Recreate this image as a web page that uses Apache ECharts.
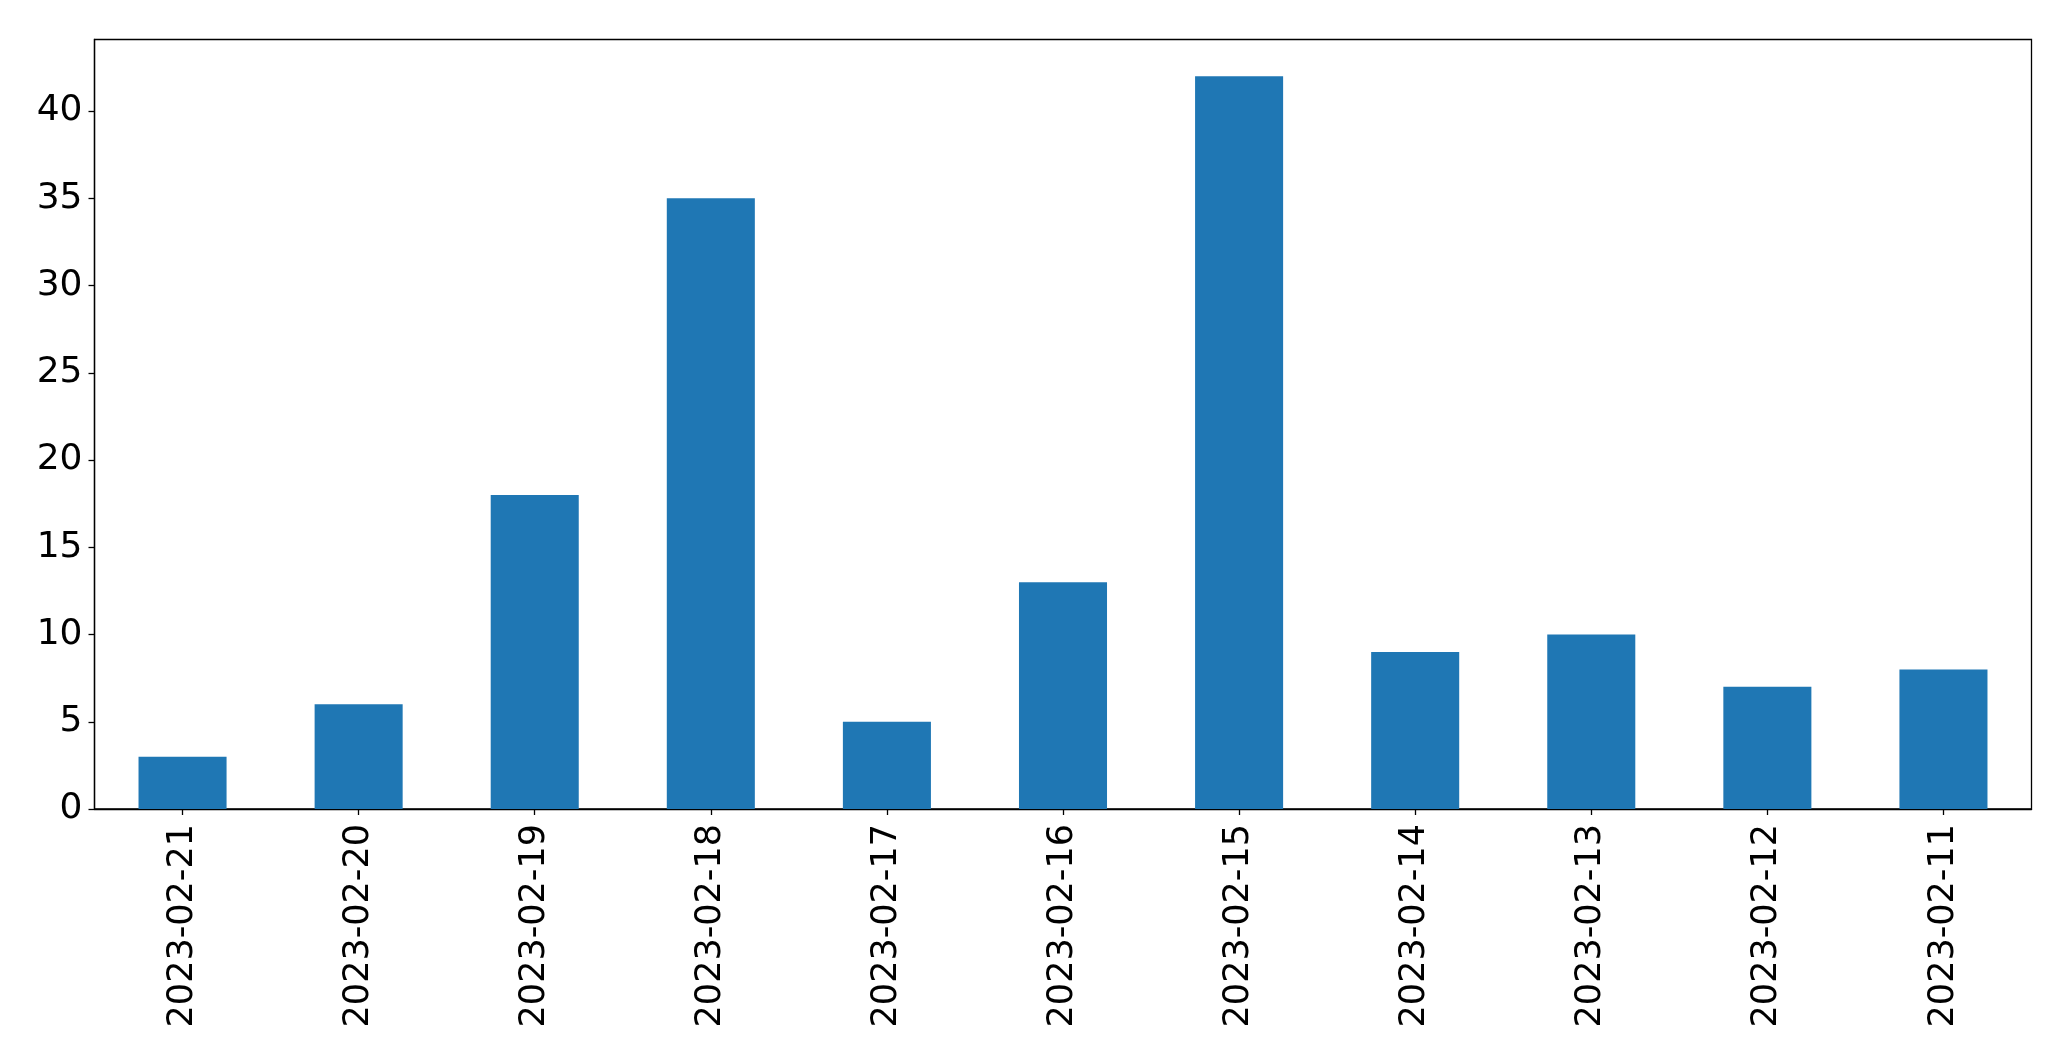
<!DOCTYPE html>
<html>
<head>
<meta charset="utf-8">
<script src="https://cdn.jsdelivr.net/npm/echarts@6/dist/echarts.min.js"></script>
<style>html,body{margin:0;padding:0;background:#fff}#c{width:2071px;height:1061px}</style>
</head>
<body>
<div id="c"></div>
<script>
const categories = ["2023-02-21","2023-02-20","2023-02-19","2023-02-18","2023-02-17","2023-02-16","2023-02-15","2023-02-14","2023-02-13","2023-02-12","2023-02-11"];
const values = [3, 6, 18, 35, 5, 13, 42, 9, 10, 7, 8];
const yTicks = [0, 5, 10, 15, 20, 25, 30, 35, 40];

const chart = echarts.init(document.getElementById('c'));
const font = 'DejaVu Sans';
chart.setOption({
  animation: false,
  backgroundColor: '#ffffff',
  grid: {left: 94.5, right: 39.5, top: 39.5, bottom: 252, show: true, borderColor: '#000', borderWidth: 1.3, backgroundColor: 'transparent'},
  xAxis: {
    type: 'category', data: categories,
    axisLine: {show: true, lineStyle: {color: '#000', width: 1.3}},
    axisTick: {show: true, alignWithLabel: true, length: 6, lineStyle: {color: '#000', width: 1.3}},
    axisLabel: {rotate: 90, margin: 15, color: '#000', fontFamily: font, fontSize: 35, interval: 0},
    splitLine: {show: false}
  },
  yAxis: {
    type: 'value', min: 0, max: 44.1,
    axisLine: {show: true, lineStyle: {color: '#000', width: 1.3}},
    axisTick: {show: true, length: 6, lineStyle: {color: '#000', width: 1.3}, customValues: yTicks},
    axisLabel: {margin: 12, color: '#000', fontFamily: font, fontSize: 36, customValues: yTicks},
    splitLine: {show: false}
  },
  series: [{
    type: 'bar', data: values, barWidth: '50%',
    itemStyle: {color: '#1f77b4'}
  }]
});
</script>
</body>
</html>
